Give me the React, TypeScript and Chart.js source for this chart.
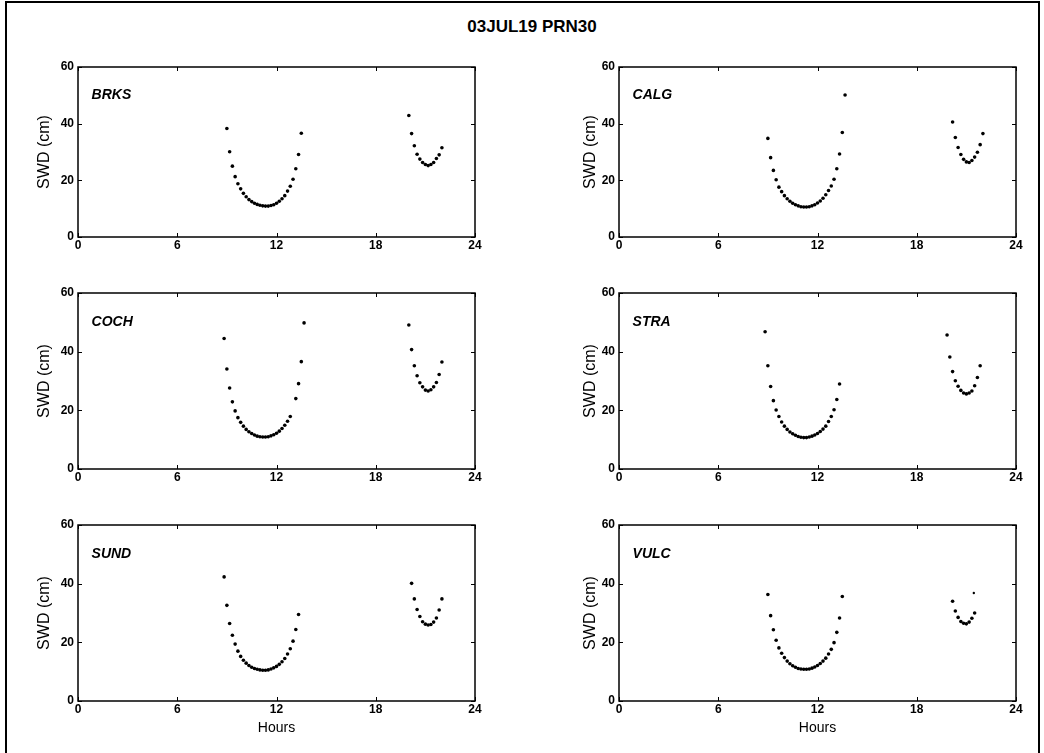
import React, { useEffect, useRef } from "react";
import { Chart, registerables } from "chart.js";

Chart.register(...registerables);

// ---------- data ----------
const TITLE = "03JUL19 PRN30";
const STATIONS = ["BRKS", "CALG", "COCH", "STRA", "SUND", "VULC"];
const X_TICKS = [0, 6, 12, 18, 24];
const Y_TICKS = [0, 20, 40, 60];

// first pass (10-min samples)
const ARC1_HOURS = [
  8.833, 9.0, 9.167, 9.333, 9.5, 9.667, 9.833, 10.0, 10.167, 10.333, 10.5, 10.667,
  10.833, 11.0, 11.167, 11.333, 11.5, 11.667, 11.833, 12.0, 12.167, 12.333, 12.5,
  12.667, 12.833, 13.0, 13.167, 13.333, 13.5, 13.667,
];
// second pass
const ARC2_HOURS = [
  19.833, 20.0, 20.167, 20.333, 20.5, 20.667, 20.833, 21.0, 21.167, 21.333, 21.5,
  21.667, 21.833, 22.0,
];

const BRKS_ARC1 = [
  null, 38.3, 30.1, 25.0, 21.3, 18.8, 17.0, 15.4, 14.2, 13.2, 12.5, 11.9, 11.5, 11.2,
  11.0, 10.9, 10.9, 11.1, 11.4, 11.9, 12.6, 13.5, 14.6, 16.2, 17.9, 20.4, 24.1, 29.1,
  36.6, null,
];
const BRKS_ARC2 = [
  null, 42.9, 36.5, 32.2, 29.2, 27.5, 26.3, 25.6, 25.2, 25.6, 26.3, 27.7, 29.0, 31.5,
];

const CALG_ARC1 = [
  null, 34.8, 28.0, 23.5, 20.2, 17.6, 16.0, 14.6, 13.5, 12.6, 11.9, 11.4, 11.0, 10.7,
  10.6, 10.6, 10.7, 11.0, 11.4, 12.0, 12.7, 13.7, 14.9, 16.4, 18.0, 20.4, 24.1, 29.3,
  36.9, 50.1,
];
const CALG_ARC2 = [
  null, null, 40.6, 35.1, 31.6, 29.1, 27.4, 26.5, 26.3, 27.0, 28.2, 29.9, 32.6, 36.5,
];

const COCH_ARC1 = [
  44.5, 34.1, 27.6, 22.9, 19.8, 17.5, 15.9, 14.6, 13.5, 12.7, 12.1, 11.6, 11.2, 11.0,
  10.9, 10.9, 11.0, 11.3, 11.7, 12.2, 12.9, 13.8, 14.9, 16.3, 17.9, null, 24.0, 29.1,
  36.6, 49.8,
];
const COCH_ARC2 = [
  null, 49.1, 40.7, 35.2, 31.8, 29.4, 28.0, 26.9, 26.6, 27.0, 28.0, 29.5, 32.2, 36.5,
];

const STRA_ARC1 = [
  46.8, 35.2, 28.1, 23.3, 20.1, 17.9, 16.0, 14.6, 13.5, 12.6, 12.0, 11.5, 11.1, 10.8,
  10.7, 10.7, 10.9, 11.2, 11.6, 12.1, 12.8, 13.6, 14.6, 16.2, 17.9, 20.2, 23.7, 29.0,
  null, null,
];
const STRA_ARC2 = [
  45.7, 38.2, 33.2, 30.1, 28.2, 26.8, 25.9, 25.6, 25.9, 26.6, 28.4, 31.2, 35.2, null,
];

const SUND_ARC1 = [
  42.3, 32.6, 26.4, 22.4, 19.4, 17.0, 15.2, 13.9, 12.9, 12.1, 11.5, 11.1, 10.8, 10.6,
  10.5, 10.5, 10.6, 10.9, 11.3, 11.8, 12.5, 13.4, 14.5, 16.0, 17.8, 20.4, 24.4, 29.5,
  null, null,
];
const SUND_ARC2 = [
  null, null, 40.1, 34.8, 31.2, 28.8, 27.0, 26.2, 25.9, 26.1, 26.9, 28.3, 31.0, 34.8,
];

const VULC_ARC1 = [
  null, 36.3, 29.1, 24.3, 20.7, 18.1, 16.3, 14.8, 13.6, 12.7, 12.0, 11.5, 11.1, 10.9,
  10.8, 10.8, 10.9, 11.2, 11.6, 12.1, 12.8, 13.6, 14.6, 16.0, 17.6, 19.9, 23.4, 28.3,
  35.6, null,
];
const VULC_ARC2 = [
  null, null, 34.0, 30.7, 28.5, 27.1, 26.5, 26.3, 26.9, 28.2, 30.0, null, null, null,
];
const VULC_STRAY_HOURS = [21.45];
const VULC_STRAY = [36.8];

const SERIES: Record<string, { a1: (number | null)[]; a2: (number | null)[]; sx?: number[]; sy?: number[] }> = {
  BRKS: { a1: BRKS_ARC1, a2: BRKS_ARC2 },
  CALG: { a1: CALG_ARC1, a2: CALG_ARC2 },
  COCH: { a1: COCH_ARC1, a2: COCH_ARC2 },
  STRA: { a1: STRA_ARC1, a2: STRA_ARC2 },
  SUND: { a1: SUND_ARC1, a2: SUND_ARC2 },
  VULC: { a1: VULC_ARC1, a2: VULC_ARC2, sx: VULC_STRAY_HOURS, sy: VULC_STRAY },
};

// ---------- layout ----------
const COLS = [
  { canvasLeft: 0, canvasWidth: 500, areaLeft: 78, areaRight: 475, yTitleCenter: 45 },
  { canvasLeft: 520, canvasWidth: 524, areaLeft: 619, areaRight: 1016, yTitleCenter: 71 },
];
const ROWS = [
  { areaTop: 67, areaBottom: 237, xAxisH: 22, hours: false },
  { areaTop: 293, areaBottom: 469, xAxisH: 22, hours: false },
  { areaTop: 525, areaBottom: 701, xAxisH: 44, hours: true },
];
const TOP_PAD = 22;
const FONT = '"Liberation Sans", Arial, Helvetica, sans-serif';

function toPoints(xs: number[], ys: (number | null)[]) {
  const out: { x: number; y: number }[] = [];
  xs.forEach((x, i) => {
    const y = ys[i];
    if (y !== null && y !== undefined) out.push({ x, y });
  });
  return out;
}

const framePlugin = {
  id: "frame",
  afterDraw(chart: any, _args: any, opts: any) {
    const { ctx, chartArea: a, scales } = chart;
    const xs = scales.x;
    const ys = scales.y;
    ctx.save();
    ctx.strokeStyle = "#000";
    ctx.lineWidth = 1.5;
    ctx.strokeRect(a.left, a.top, a.right - a.left, a.bottom - a.top);
    ctx.lineWidth = 1;
    const tl = 4;
    ctx.beginPath();
    X_TICKS.forEach((v) => {
      const px = Math.round(xs.getPixelForValue(v)) + 0.5;
      ctx.moveTo(px, a.bottom);
      ctx.lineTo(px, a.bottom - tl);
      ctx.moveTo(px, a.top);
      ctx.lineTo(px, a.top + tl);
    });
    Y_TICKS.forEach((v) => {
      const py = Math.round(ys.getPixelForValue(v)) + 0.5;
      ctx.moveTo(a.left, py);
      ctx.lineTo(a.left + tl, py);
      ctx.moveTo(a.right, py);
      ctx.lineTo(a.right - tl, py);
    });
    ctx.stroke();
    ctx.font = `italic bold 14px ${FONT}`;
    ctx.fillStyle = "#000";
    ctx.textAlign = "left";
    ctx.textBaseline = "middle";
    ctx.fillText(opts.label, xs.getPixelForValue(0.82), ys.getPixelForValue(50));
    ctx.restore();
  },
};

function Panel({ station, col, row }: { station: string; col: number; row: number }) {
  const ref = useRef<HTMLCanvasElement | null>(null);
  const c = COLS[col];
  const r = ROWS[row];
  const width = c.canvasWidth;
  const height = r.areaBottom - r.areaTop + TOP_PAD + r.xAxisH;
  const top = r.areaTop - TOP_PAD;

  useEffect(() => {
    if (!ref.current) return;
    const s = SERIES[station];
    const pointStyle = {
      showLine: false,
      pointRadius: 1.8,
      pointHoverRadius: 1.8,
      pointBackgroundColor: "#000",
      pointBorderWidth: 0,
      borderColor: "#000",
      backgroundColor: "#000",
    };
    const datasets: any[] = [
      { label: station + " pass 1", data: toPoints(ARC1_HOURS, s.a1), ...pointStyle },
      { label: station + " pass 2", data: toPoints(ARC2_HOURS, s.a2), ...pointStyle },
    ];
    if (s.sx && s.sy) {
      datasets.push({ label: station + " extra", data: toPoints(s.sx, s.sy), ...pointStyle, pointRadius: 1.2 });
    }
    const yAxisW = c.areaLeft - c.canvasLeft;
    const rightPad = c.canvasLeft + c.canvasWidth - c.areaRight;
    const titleLH = 16 * 1.2;
    const chart = new Chart(ref.current, {
      type: "scatter",
      data: { datasets },
      plugins: [framePlugin],
      options: {
        responsive: false,
        animation: false,
        devicePixelRatio: 1,
        layout: { padding: { left: 0, right: rightPad, top: TOP_PAD, bottom: 0 } },
        plugins: {
          legend: { display: false },
          tooltip: { enabled: false },
          title: { display: false },
          frame: { label: station },
        } as any,
        scales: {
          x: {
            type: "linear",
            min: 0,
            max: 24,
            grid: { display: false, drawTicks: false, tickLength: 0 },
            border: { display: false },
            ticks: {
              stepSize: 6,
              color: "#000",
              padding: 1,
              maxRotation: 0,
              font: { family: FONT, size: 12, weight: "bold" },
            },
            title: {
              display: r.hours,
              text: "Hours",
              color: "#000",
              font: { family: FONT, size: 14 },
              padding: { top: 0, bottom: 8 },
            },
            afterFit: (scale: any) => {
              scale.height = r.xAxisH;
            },
          },
          y: {
            type: "linear",
            min: 0,
            max: 60,
            grid: { display: false, drawTicks: false, tickLength: 0 },
            border: { display: false },
            ticks: {
              stepSize: 20,
              color: "#000",
              padding: 4,
              font: { family: FONT, size: 12, weight: "bold" },
            },
            title: {
              display: true,
              text: "SWD (cm)",
              color: "#000",
              font: { family: FONT, size: 16 },
              padding: { top: c.yTitleCenter - titleLH / 2, bottom: 0 },
            },
            afterFit: (scale: any) => {
              scale.width = yAxisW;
            },
          },
        },
      } as any,
    });
    return () => chart.destroy();
  }, [station, col, row]);

  return (
    <canvas
      ref={ref}
      width={width}
      height={height}
      style={{ position: "absolute", left: c.canvasLeft, top, width, height }}
    />
  );
}

export default function App() {
  return (
    <div
      style={{
        position: "absolute",
        left: 0,
        top: 0,
        width: 1044,
        height: 753,
        overflow: "hidden",
        background: "#fff",
      }}
    >
      <div
        style={{
          position: "absolute",
          left: 5,
          top: 1,
          width: 1035,
          height: 800,
          borderTop: "2px solid #000",
          borderLeft: "2px solid #000",
          borderRight: "2px solid #000",
          boxSizing: "border-box",
        }}
      />
      <div
        style={{
          position: "absolute",
          left: 532,
          top: 27,
          transform: "translate(-50%, -50%)",
          fontFamily: FONT,
          fontWeight: "bold",
          fontSize: 17,
          whiteSpace: "nowrap",
          color: "#000",
        }}
      >
        {TITLE}
      </div>
      {STATIONS.map((st, i) => (
        <Panel key={st} station={st} col={i % 2} row={Math.floor(i / 2)} />
      ))}
    </div>
  );
}
